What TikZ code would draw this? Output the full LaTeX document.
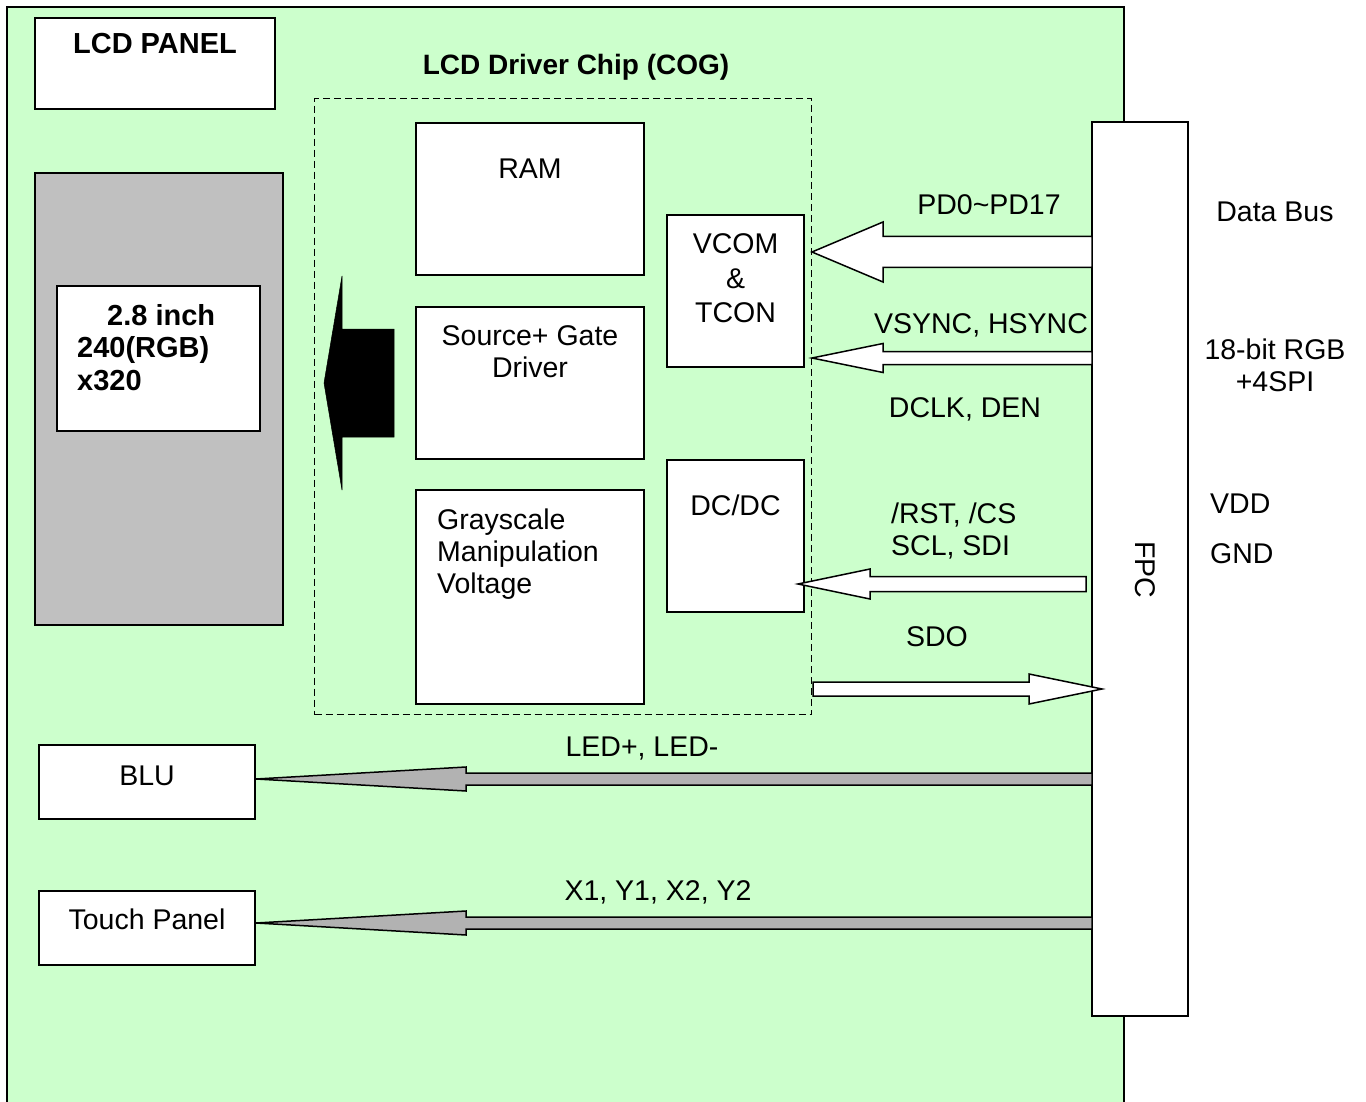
\documentclass[tikz,border=0pt]{standalone}
\usepackage{fontspec}
\setmainfont{Liberation Sans}
\usetikzlibrary{calc}
\definecolor{panelgreen}{HTML}{CCFFCC}
\definecolor{glassgray}{HTML}{C0C0C0}
\definecolor{ledgray}{HTML}{B2B2B2}
\newcommand\rfont{\fontsize{28.5}{32}\selectfont}
\newcommand\bfont{\fontsize{29}{34}\selectfont\bfseries}
% #1 style, #2 tip, #3 tail, #4 head length, #5 head half width, #6 shaft half width
\newcommand\blockarrow[6]{%
  \draw[#1] let \p1=(#2), \p2=(#3), \p3=($(#2)!#4!(#3)$) in
    (\p1) -- (\x3,\y1+#5) -- (\x3,\y1+#6) -- (\x2,\y1+#6) -- (\x2,\y1-#6)
    -- (\x3,\y1-#6) -- (\x3,\y1-#5) -- cycle;}
\begin{document}
\begin{tikzpicture}[x=1pt,y=-1pt,
  box/.style={draw, line width=1.5pt, fill=white, anchor=north west, inner sep=0pt, outer sep=0pt},
  txt/.style={anchor=base, inner sep=0pt, font=\rfont},
  ltxt/.style={anchor=base west, inner sep=0pt, font=\rfont},
  btxt/.style={anchor=base west, inner sep=0pt, font=\bfont},
  arrw/.style={draw, line width=1.5pt, fill=white, line join=miter}]
\useasboundingbox (0,0) rectangle (1366,1102);
% green panel
\fill[panelgreen] (7,7) rectangle (1124,1102);
\draw[line width=2pt] (7,1104) -- (7,7) -- (1124,7) -- (1124,1104);
% LCD panel title box
\node[box, minimum width=240pt, minimum height=91pt] (lcdp) at (35,18) {};
\node[txt, font=\bfont] (lcdpt) at (155,54) {LCD PANEL};
% glass
\node[box, fill=glassgray, minimum width=248pt, minimum height=452pt] (glass) at (35,173) {};
\node[box, minimum width=203pt, minimum height=145pt] (res) at (57,286) {};
\node[btxt] (res1) at (107,325) {2.8 inch};
\node[btxt] (res2) at (77,357.5) {240(RGB)};
\node[btxt] (res3) at (77,390) {x320};
% driver chip
\node[txt, font=\fontsize{28}{34}\selectfont\bfseries] (cogt) at (576,75) {LCD Driver Chip (COG)};
\node[draw, line width=1.4pt, dash pattern=on 7pt off 4pt, anchor=north west, inner sep=0pt,
      minimum width=497pt, minimum height=616pt] (cog) at (314,98) {};
\node[box, minimum width=228pt, minimum height=152pt] (ram) at (416,123) {};
\node[txt] (ramt) at (530,179) {RAM};
\node[box, minimum width=228pt, minimum height=152pt] (src) at (416,307) {};
\node[txt] (srct1) at (530,345) {Source+ Gate};
\node[txt] (srct2) at (530,377) {Driver};
\node[box, minimum width=228pt, minimum height=214pt] (gsv) at (416,490) {};
\node[ltxt] (gsv1) at (437,529) {Grayscale};
\node[ltxt] (gsv2) at (437,561) {Manipulation};
\node[ltxt] (gsv3) at (437,593) {Voltage};
\node[box, minimum width=137pt, minimum height=152pt] (vcom) at (667,215) {};
\node[txt] (vcom1) at (735.5,254) {VCOM};
\node[txt] (vcom2) at (735.5,288.5) {\&};
\node[txt] (vcom3) at (735.5,323) {TCON};
\node[box, minimum width=137pt, minimum height=152pt] (dcdc) at (667,460) {};
\node[txt] (dcdct) at (735.5,515) {DC/DC};
% FPC
\node[box, minimum width=96pt, minimum height=894pt] (fpc) at (1092,122) {};
\node[anchor=center, inner sep=0pt, font=\rfont, rotate=-90] (fpct) at (1145,570) {FPC};
% BLU and touch panel
\node[box, minimum width=216pt, minimum height=74pt] (blu) at (39,745) {};
\node[txt] (blut) at (147,785) {BLU};
\node[box, minimum width=216pt, minimum height=74pt] (tp) at (39,891) {};
\node[txt] (tpt) at (147,929) {Touch Panel};
% arrow end points
\coordinate (bigtip) at (324,383);
\coordinate (bigtail) at (394,383);
\coordinate (pdtip) at (812,252);
\coordinate (vstip) at (812,358);
\coordinate (rsttip) at (798,584);
\coordinate (rsttail) at (1086,584);
\coordinate (sdotail) at (813,689);
\coordinate (sdotip) at (1102,689);
\coordinate (ledtip) at (256,779);
\coordinate (xytip) at (256,923);
% arrows
\blockarrow{fill=black, draw=black, line width=0.5pt}{bigtip}{bigtail}{18pt}{107pt}{54pt}
\blockarrow{arrw}{pdtip}{fpc.west |- pdtip}{71pt}{30pt}{15.5pt}
\blockarrow{arrw}{vstip}{fpc.west |- vstip}{71pt}{14.5pt}{6.5pt}
\blockarrow{arrw}{rsttip}{rsttail}{72pt}{15pt}{7.5pt}
\blockarrow{arrw}{sdotip}{sdotail}{73pt}{15pt}{7pt}
\blockarrow{arrw, fill=ledgray}{ledtip}{fpc.west |- ledtip}{210pt}{12pt}{6pt}
\blockarrow{arrw, fill=ledgray}{xytip}{fpc.west |- xytip}{210pt}{12pt}{6pt}
% signal labels
\node[txt] (pdl) at (989,215) {PD0\char`\~PD17};
\node[txt] (vsl) at (981,333) {VSYNC, HSYNC};
\node[txt] (dcl) at (965,417) {DCLK, DEN};
\node[ltxt] (rstl) at (891,523) {/RST, /CS};
\node[ltxt] (scll) at (891,555) {SCL, SDI};
\node[txt] (sdol) at (937,646) {SDO};
\node[txt] (ledl) at (642,756) {LED+, LED-};
\node[txt] (xyl) at (658,900) {X1, Y1, X2, Y2};
% right side labels
\node[txt] (dbl) at (1275,222) {Data Bus};
\node[txt] (rgbl1) at (1275,359) {18-bit RGB};
\node[txt] (rgbl2) at (1275,391) {+4SPI};
\node[ltxt] (vddl) at (1210,513) {VDD};
\node[ltxt] (gndl) at (1210,563) {GND};
\end{tikzpicture}
\end{document}
